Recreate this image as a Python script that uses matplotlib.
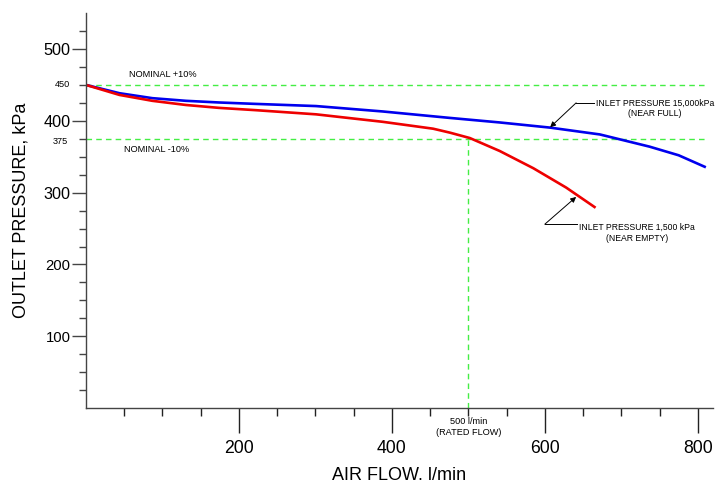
import matplotlib.pyplot as plt
import matplotlib.transforms as mtransforms

plt.rcParams['font.family'] = ['Liberation Sans', 'DejaVu Sans']

# curves (flow l/min, outlet pressure kPa)
full_flow = [0, 44, 87, 131, 174, 220, 301, 388, 476, 541, 607, 672, 737, 775, 809]
full_press = [450, 438.4, 431.5, 427.8, 425.5, 423.6, 420.5, 413, 404, 397.7, 390.5, 381, 364, 352, 336]

empty_flow = [0, 44, 87, 131, 174, 222, 301, 388, 454, 476, 502, 541, 585, 628, 665]
empty_press = [450, 436, 427.8, 422, 418, 414.8, 409, 398.6, 389, 383.5, 376, 358, 334, 307, 280]

nominal_hi = 450
nominal_lo = 375
rated_flow = 500

fig = plt.figure(figsize=(7.21, 4.83), dpi=100)
ax = fig.add_axes([0.119, 0.155, 0.870, 0.818])

green = '#44ee44'
ax.plot([0, 813], [nominal_hi, nominal_hi], color=green, lw=1.0, dashes=(4, 3))
ax.plot([0, 810], [nominal_lo, nominal_lo], color=green, lw=1.0, dashes=(4, 3))
ax.plot([rated_flow, rated_flow], [0, nominal_lo], color=green, lw=1.0, dashes=(4, 3))

ax.plot(full_flow, full_press, color='#0000ee', lw=1.9)
ax.plot(empty_flow, empty_press, color='#ee0000', lw=1.9)

ax.set_xlim(0, 820)
ax.set_ylim(0, 550)

for s in ['top', 'right']:
    ax.spines[s].set_visible(False)
for s in ['left', 'bottom']:
    ax.spines[s].set_color('#444444')
    ax.spines[s].set_linewidth(1.0)

ax.set_xticks([200, 400, 600, 800])
ax.set_xticks([50, 100, 150, 250, 300, 350, 450, 500, 550, 650, 700, 750], minor=True)
ax.set_yticks([100, 200, 300, 400, 500])
ax.set_yticks([25, 50, 75, 125, 150, 175, 225, 250, 275, 325, 350, 375, 425, 450, 475, 525], minor=True)

ax.tick_params(axis='x', which='major', direction='out', length=18, width=1.0, color='#222222',
               labelsize=12.7, pad=5)
ax.tick_params(axis='x', which='minor', direction='out', length=6, width=1.0, color='#222222')
ax.tick_params(axis='y', which='major', direction='out', length=10, width=1.0, color='#444444',
               labelsize=11.7, pad=1)
ax.tick_params(axis='y', which='minor', direction='out', length=5, width=1.0, color='#444444')

for lab in ax.get_yticklabels():
    if lab.get_text() in ('100', '200'):
        lab.set_fontsize(10.7)

ax.set_xlabel('AIR FLOW. l/min', fontsize=13, labelpad=7)
ax.set_ylabel('OUTLET PRESSURE, kPa', fontsize=13, labelpad=10)

small = 6.6
note = 6.2

# small labels for the nominal limits
trans = mtransforms.blended_transform_factory(ax.transAxes, ax.transData)
ax.text(-0.025, nominal_hi, '450', transform=trans, ha='right', va='center', fontsize=small)
ax.text(-0.028, nominal_lo - 4, '375', transform=trans, ha='right', va='center', fontsize=small)

ax.text(57, 458, 'NOMINAL +10%', fontsize=small, va='bottom')
ax.text(50, 366, 'NOMINAL -10%', fontsize=small, va='top')

ax.text(rated_flow, -13, '500 l/min\n(RATED FLOW)', ha='center', va='top', fontsize=small,
        linespacing=1.15)

# leaders
ax.annotate('', xy=(607, 391), xytext=(641, 425),
            arrowprops=dict(arrowstyle='-|>', color='black', lw=0.7, mutation_scale=8,
                            shrinkA=0, shrinkB=0))
ax.plot([641, 664], [425, 425], color='black', lw=0.7)
ax.text(667, 431, 'INLET PRESSURE 15,000kPa\n(NEAR FULL)', ha='left', va='top',
        fontsize=note, multialignment='center', linespacing=1.25)

ax.annotate('', xy=(641, 294), xytext=(600, 256),
            arrowprops=dict(arrowstyle='-|>', color='black', lw=0.7, mutation_scale=8,
                            shrinkA=0, shrinkB=0))
ax.plot([600, 642], [256, 256], color='black', lw=0.7)
ax.text(645, 258, 'INLET PRESSURE 1,500 kPa\n(NEAR EMPTY)', ha='left', va='top',
        fontsize=note, multialignment='center', linespacing=1.25)

fig.savefig('out.png', dpi=100)
